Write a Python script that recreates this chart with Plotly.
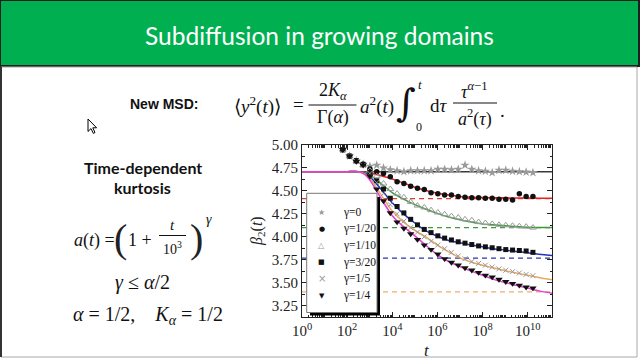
import plotly.graph_objects as go

# ---------------- data ----------------
# simulation times (data points)
t_sim = [64, 128, 256, 512, 1024, 2048, 4096, 8192, 16384, 32768, 65536,
         131072, 262144, 524288, 1048576, 2097152, 4194304, 8388608,
         16777216, 33554432, 67108864, 134217728, 268435456, 536870912,
         1073741824, 2147483648, 4294967296, 8589934592, 17179869184]

beta_g0 = [4.95, 4.88, 4.83, 4.79, 4.77, 4.78, 4.75, 4.73, 4.72, 4.71, 4.72, 4.72,
           4.72, 4.72, 4.735, 4.735, 4.73, 4.735, 4.78, 4.735, 4.72, 4.715, 4.70,
           4.725, 4.725, 4.715, 4.71, 4.705, 4.70]
beta_g1_20 = [4.95, 4.88, 4.83, 4.79, 4.74, 4.71, 4.69, 4.655, 4.60, 4.58, 4.55, 4.53,
              4.515, 4.48, 4.47, 4.455, 4.455, 4.44, 4.43, 4.425, 4.425, 4.42, 4.42,
              4.41, 4.41, 4.40, 4.47, 4.44, 4.44]
beta_g1_10 = [4.95, 4.88, 4.82, 4.78, 4.72, 4.66, 4.58, 4.52, 4.47, 4.43, 4.38, 4.34,
              4.32, 4.29, 4.265, 4.245, 4.225, 4.21, 4.19, 4.18, 4.16, 4.15, 4.14,
              4.13, 4.125, 4.12, 4.115, 4.11, 4.10]
beta_g3_20 = [4.95, 4.88, 4.83, 4.79, 4.70, 4.61, 4.52, 4.42, 4.33, 4.26, 4.19, 4.13,
              4.08, 4.045, 4.01, 3.985, 3.965, 3.945, 3.93, 3.915, 3.90, 3.89, 3.88,
              3.87, 3.86, 3.855, 3.85, 3.845, 3.83]
beta_g1_5 = [4.95, 4.88, 4.82, 4.78, 4.69, 4.59, 4.47, 4.35, 4.25, 4.17, 4.10, 4.05,
             4.00, 3.95, 3.91, 3.87, 3.83, 3.79, 3.76, 3.73, 3.71, 3.69, 3.67,
             3.65, 3.635, 3.62, 3.605, 3.59, 3.575]
beta_g1_4 = [4.95, 4.88, 4.82, 4.78, 4.66, 4.52, 4.39, 4.26, 4.16, 4.09, 4.03, 3.97,
             3.91, 3.86, 3.81, 3.76, 3.72, 3.69, 3.66, 3.635, 3.61, 3.58, 3.56,
             3.535, 3.51, 3.49, 3.47, 3.45, 3.44]

# theory curves (solid lines)
t_fit = [1, 10, 100, 316, 562, 1000, 3162, 10000, 31623, 100000, 316228, 1000000,
         3162278, 10000000, 31622777, 100000000, 316227766, 1000000000,
         3162277660, 10000000000, 31622776602, 120000000000]
t_flat = [1, 120000000000]
fit_g0 = [4.71, 4.71]
fit_g1_20 = [4.71, 4.71, 4.71, 4.71, 4.705, 4.695, 4.665, 4.63, 4.585, 4.54, 4.505,
             4.475, 4.455, 4.44, 4.432, 4.427, 4.425, 4.424, 4.423, 4.422, 4.421, 4.42]
fit_g1_10 = [4.71, 4.71, 4.71, 4.71, 4.70, 4.675, 4.58, 4.48, 4.41, 4.35, 4.30,
             4.255, 4.215, 4.185, 4.16, 4.14, 4.13, 4.12, 4.112, 4.105, 4.102, 4.10]
fit_g3_20 = [4.71, 4.71, 4.71, 4.71, 4.695, 4.655, 4.52, 4.37, 4.25, 4.15, 4.065,
             4.005, 3.96, 3.935, 3.91, 3.89, 3.87, 3.855, 3.84, 3.825, 3.81, 3.795]
fit_g1_5 = [4.71, 4.71, 4.71, 4.71, 4.69, 4.64, 4.46, 4.28, 4.16, 4.07, 3.995,
            3.91, 3.835, 3.77, 3.725, 3.69, 3.66, 3.63, 3.605, 3.58, 3.555, 3.53]
fit_g1_4 = [4.71, 4.71, 4.71, 4.71, 4.685, 4.62, 4.42, 4.23, 4.11, 4.01, 3.905,
            3.805, 3.73, 3.675, 3.625, 3.58, 3.535, 3.50, 3.47, 3.44, 3.41, 3.385]

# asymptotes (dashed)
asym_values = [4.415, 4.10, 3.766, 3.40]
asym_colors = ["#e23a35", "#3f9a3f", "#2a35b0", "#e9b06e"]

legend_labels = ["γ=0", "γ=1/20", "γ=1/10", "γ=3/20", "γ=1/5", "γ=1/4"]

x_tickvals = [1, 100, 10000, 1000000, 100000000, 10000000000]
x_ticktext = ["10<sup>0</sup>", "10<sup>2</sup>", "10<sup>4</sup>",
              "10<sup>6</sup>", "10<sup>8</sup>", "10<sup>10</sup>"]

# ---------------- layout helpers ----------------
W, H = 640, 360
PL, PR, PT, PB = 302, 552, 145, 317


def X(px):
    return (px - PL) / (PR - PL)


def Y(py):
    return (PB - py) / (PB - PT)


SERIF = "Liberation Serif"
fig = go.Figure()

# dashed asymptotes
for v, c in zip(asym_values, asym_colors):
    fig.add_trace(go.Scatter(x=t_flat, y=[v, v], mode="lines",
                             line=dict(color=c, width=1.3, dash="5px,4px"),
                             showlegend=False, hoverinfo="skip"))

fits = [(t_flat, fit_g0, "#3a3a3a"), (t_fit, fit_g1_20, "#e3252a"),
        (t_fit, fit_g1_10, "#3f9a3f"), (t_fit, fit_g3_20, "#2233bb"),
        (t_fit, fit_g1_5, "#e8a865"), (t_fit, fit_g1_4, "#e040cf")]
for tx, fy, c in fits:
    fig.add_trace(go.Scatter(x=tx, y=fy, mode="lines",
                             line=dict(color=c, width=1.5, shape="spline", smoothing=0.8),
                             showlegend=False, hoverinfo="skip"))

GREY = "#9a9a9a"
BLK = "#111111"
series = [
    (beta_g0, dict(symbol="star", size=7, color=GREY)),
    (beta_g1_20, dict(symbol="circle", size=5.5, color=BLK)),
    (beta_g1_10, dict(symbol="triangle-up-open", size=6, color=GREY, line=dict(width=1, color=GREY))),
    (beta_g3_20, dict(symbol="square", size=5, color=BLK)),
    (beta_g1_5, dict(symbol="x-thin-open", size=5, color=GREY, line=dict(width=1, color=GREY))),
    (beta_g1_4, dict(symbol="triangle-down", size=6.5, color=BLK)),
]
for (vals, mk), name in zip(series, legend_labels):
    fig.add_trace(go.Scatter(x=t_sim, y=vals, mode="markers", marker=mk,
                             name=name, showlegend=False))

shapes = []
annotations = []

# slide: title bar and frame
shapes.append(dict(type="rect", xref="paper", yref="paper", x0=X(0), x1=X(639), y0=Y(66), y1=Y(0),
                   fillcolor="#00b050", line=dict(color="#1f1f1f", width=2), layer="below"))
shapes.append(dict(type="rect", xref="paper", yref="paper", x0=X(1), x1=X(637), y0=Y(357), y1=Y(67),
                   fillcolor="rgba(0,0,0,0)", line=dict(color="#a8a8a8", width=1), layer="below"))
shapes.append(dict(type="line", xref="paper", yref="paper", x0=X(1), x1=X(1), y0=Y(357), y1=Y(67),
                   line=dict(color="#333333", width=2), layer="below"))

# legend box with shadow
shapes.append(dict(type="rect", xref="paper", yref="paper", x0=X(310), x1=X(380), y0=Y(315.5), y1=Y(197),
                   fillcolor="black", line=dict(width=0), layer="above"))
shapes.append(dict(type="rect", xref="paper", yref="paper", x0=X(306.7), x1=X(377), y0=Y(312.5), y1=Y(193.3),
                   fillcolor="white", line=dict(color="#777777", width=1), layer="above"))

leg_glyphs = [("★", GREY, 8), ("●", BLK, 7), ("△", GREY, 8), ("■", BLK, 7), ("×", GREY, 10), ("▼", BLK, 7)]
row0, gap = 212.0, 16.7
for i, ((g, c, s), lab) in enumerate(zip(leg_glyphs, legend_labels)):
    yy = row0 + i * gap
    annotations.append(dict(x=X(321.7), y=Y(yy), xref="paper", yref="paper", text=g, showarrow=False,
                            font=dict(family="DejaVu Sans", size=s, color=c), xanchor="center", yanchor="middle"))
    annotations.append(dict(x=X(341), y=Y(yy), xref="paper", yref="paper", text=lab, showarrow=False,
                            font=dict(family=SERIF, size=11.5, color="#111"), xanchor="left", yanchor="middle"))

# cursor icon
cur = [(88, 119), (88, 131.5), (91, 128.6), (93.3, 133.4), (95, 132.6), (92.8, 127.8), (96.6, 127.8)]
path = "M " + " L ".join(f"{X(a):.5f},{Y(b):.5f}" for a, b in cur) + " Z"
shapes.append(dict(type="path", xref="paper", yref="paper", path=path, fillcolor="white",
                   line=dict(color="black", width=1), layer="above"))


def txt(px, py, text, size, family=SERIF, color="#111", xanchor="center", angle=0):
    annotations.append(dict(x=X(px), y=Y(py), xref="paper", yref="paper", text=text, showarrow=False,
                            font=dict(family=family, size=size, color=color), textangle=angle,
                            xanchor=xanchor, yanchor="middle"))


def hbar(x0, x1, py, w=1):
    shapes.append(dict(type="line", xref="paper", yref="paper", x0=X(x0), x1=X(x1), y0=Y(py), y1=Y(py),
                       line=dict(color="#111", width=w), layer="above"))


# title
txt(319, 35, "Subdiffusion in growing domains", 24.5, family="Lato", color="white")

# New MSD equation
txt(164, 104, "<b>New MSD:</b>", 14, family="Liberation Sans")
txt(232, 105, "⟨<i>y</i><sup>2</sup>(<i>t</i>)⟩", 19, xanchor="left")
txt(298, 104, "=", 19)
txt(332.5, 92, "2<i>K</i><sub><i>α</i></sub>", 18)
hbar(308.5, 356.5, 105)
txt(332.5, 118, "Γ(<i>α</i>)", 18)
txt(358, 105, "<i>a</i><sup>2</sup>(<i>t</i>)", 19, xanchor="left")
txt(406, 103, "∫", 38, family="DejaVu Serif")
txt(420, 84, "<i>t</i>", 13)
txt(419, 127, "0", 12)
txt(428, 105, "d<i>τ</i>", 19, xanchor="left")
txt(474, 90, "<i>τ</i><sup><i>α</i>−1</sup>", 18)
hbar(453, 497, 103)
txt(475, 118, "<i>a</i><sup>2</sup>(<i>τ</i>)", 18)
txt(502, 110, ".", 19)

# left panel
txt(142.5, 167, "<b>Time-dependent</b>", 16, family="Lato")
txt(142.5, 187, "<b>kurtosis</b>", 16, family="Lato")
txt(72, 240, "<i>a</i>(<i>t</i>) =", 18, xanchor="left")
txt(120, 238, "(", 40, color="#222")
txt(196, 238, ")", 40, color="#222")
txt(126, 240, "1 +", 18, xanchor="left")
txt(172, 225, "<i>t</i>", 15)
hbar(159, 186, 235.5)
txt(172, 248, "10<sup>3</sup>", 14)
txt(209, 219, "<i>γ</i>", 14)
txt(142, 282, "<i>γ</i> ≤ <i>α</i>/2", 20)
txt(148, 315, "<i>α</i> = 1/2,    <i>K</i><sub><i>α</i></sub> = 1/2", 20)

# axis titles (as annotations so the plot area keeps its size)
txt(257, 231, "<i>β</i><sub>2</sub>(<i>t</i>)", 16, color="#222", angle=-90)
txt(427, 350, "<i>t</i>", 17, color="#222")

x_minor = [m * 10 ** n for n in range(12) for m in range(1, 10)]

fig.update_layout(
    width=W, height=H, autosize=False,
    margin=dict(l=PL, r=W - PR, t=PT, b=H - PB, pad=0, autoexpand=False),
    paper_bgcolor="white", plot_bgcolor="white",
    showlegend=False,
    shapes=shapes, annotations=annotations,
    xaxis=dict(type="log", range=[0, 11.08], tickvals=x_tickvals, ticktext=x_ticktext,
               automargin=False,
               ticks="inside", ticklen=5, tickcolor="#222", showline=True, linecolor="#222", linewidth=1,
               mirror="allticks", showgrid=False, zeroline=False,
               tickfont=dict(family=SERIF, size=15, color="#222"),
               minor=dict(ticks="inside", ticklen=2.5, tickvals=x_minor, showgrid=False, tickcolor="#222")),
    yaxis=dict(range=[3.125, 5.0005], tick0=3.25, dtick=0.25, tickformat=".2f",
               automargin=False,
               ticks="inside", ticklen=5, tickcolor="#222", showline=True, linecolor="#222", linewidth=1,
               mirror="allticks", showgrid=False, zeroline=False,
               tickfont=dict(family=SERIF, size=15, color="#222"),
               minor=dict(ticks="inside", ticklen=2.5, dtick=0.125, showgrid=False, tickcolor="#222")),
)

fig.write_html("out.html")
